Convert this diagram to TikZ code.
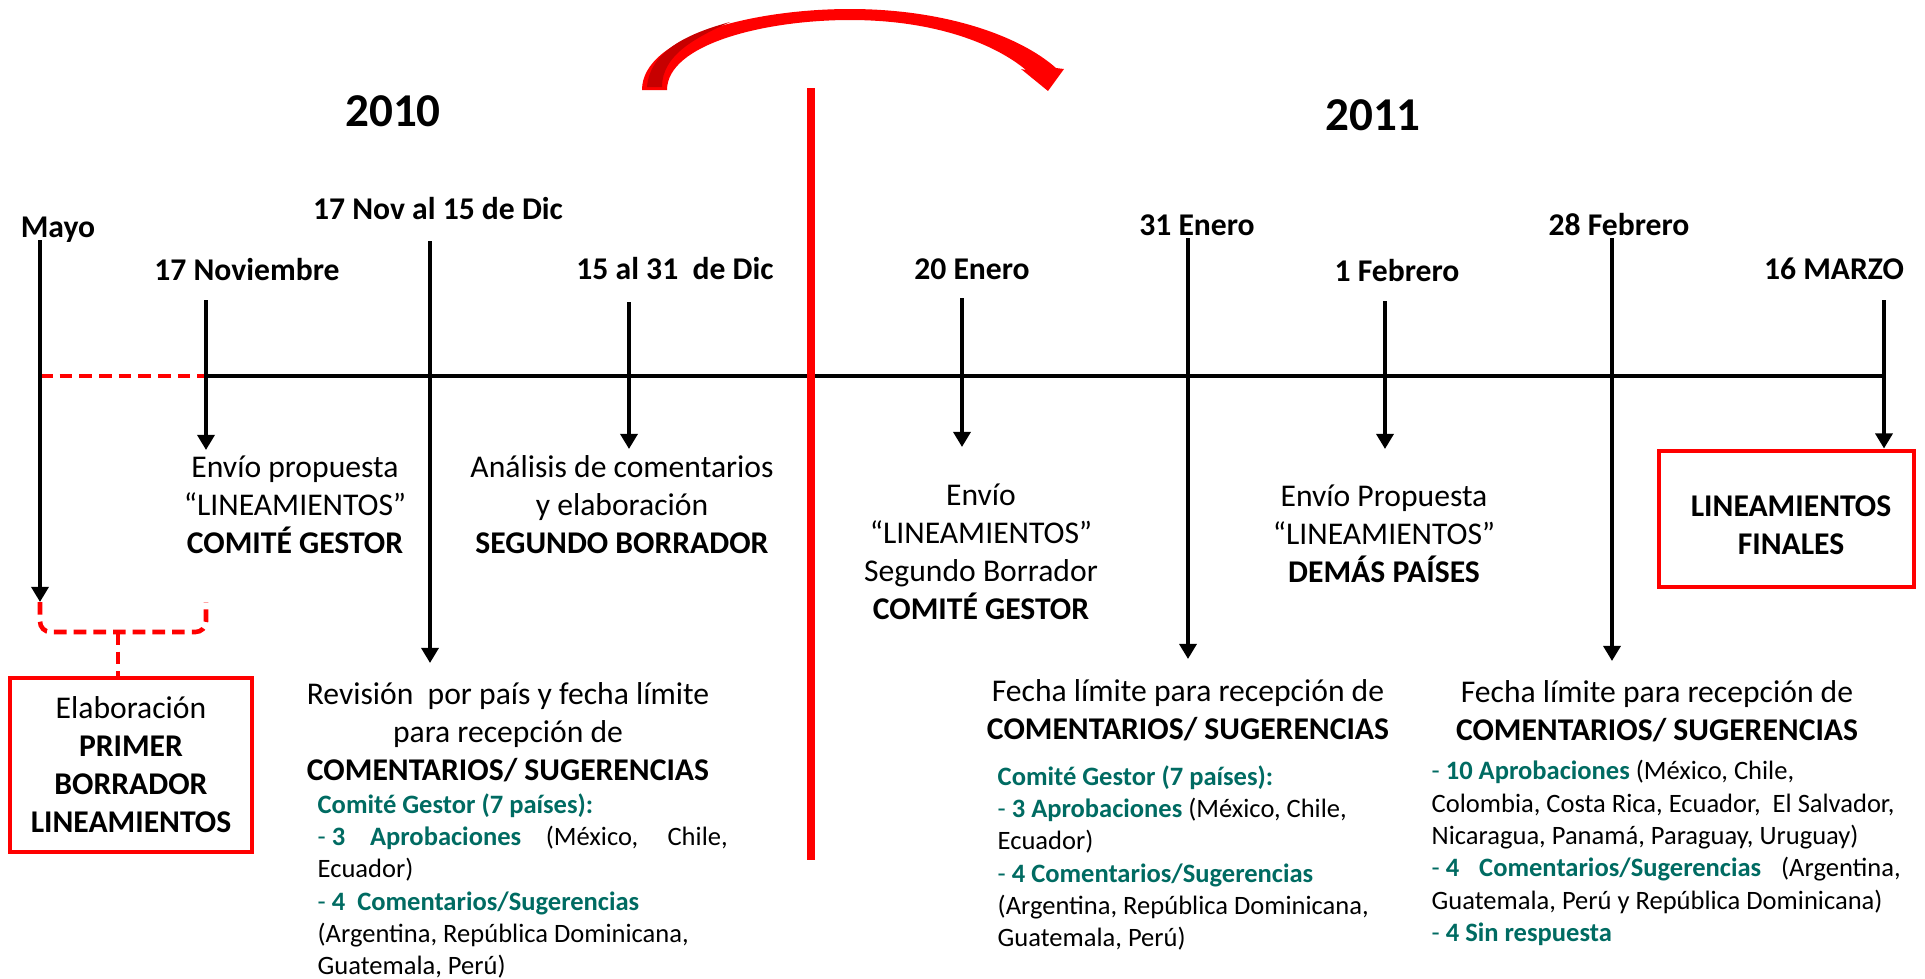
\documentclass[tikz,border=0pt]{standalone}
\usepackage{fontspec}
\setmainfont{Carlito}
\usepackage{tikz}
\usetikzlibrary{arrows.meta,positioning,calc}

\definecolor{gestor}{RGB}{0,107,98}
\newcommand{\txtsize}{\fontsize{9}{10.8}\selectfont}
\newcommand{\detsize}{\fontsize{7.55}{9.2}\selectfont}
\newcommand{\yearsize}{\fontsize{13.4}{16}\selectfont}
\newcommand{\gst}[1]{\textcolor{gestor}{#1}}

\begin{document}
\begin{tikzpicture}[
    yearbox/.style={font=\yearsize\bfseries, inner sep=0pt},
    datebox/.style={font=\txtsize\bfseries, inner sep=0pt},
    notebox/.style={font=\txtsize, align=center, inner sep=0pt},
    detailbox/.style={font=\detsize, align=left, anchor=west, inner sep=0pt},
    framebox/.style={
        draw=red,
        line width=1.4pt,
        font=\txtsize,
        align=center,
        inner sep=0pt
    },
    tickline/.style={line width=1.3pt},
    tickarrow/.style={
        -{Triangle[length=4.3pt,width=4.8pt]},
        line width=1.3pt
    },
    reddash/.style={draw=red, line width=1.3pt, dash pattern=on 3.6pt off 2pt}
]
    \useasboundingbox (0,0) rectangle (19.25,-9.78);

    \node[yearbox] (y2010) at (3.93,-1.11) {2010};
    \node[yearbox] (y2011) at (13.73,-1.15) {2011};

    \node[datebox] (mayo) at (0.58,-2.30) {Mayo};
    \node[datebox] (nov17) at (2.47,-2.70) {17 Noviembre};
    \node[datebox] (novdic) at (4.38,-2.09) {17 Nov al 15 de Dic};
    \node[datebox] (dic) at (6.75,-2.69) {15 al 31\ \ de Dic};
    \node[datebox] (ene20) at (9.72,-2.69) {20 Enero};
    \node[datebox] (ene31) at (11.97,-2.25) {31 Enero};
    \node[datebox] (feb1) at (13.97,-2.71) {1 Febrero};
    \node[datebox] (feb28) at (16.19,-2.25) {28 Febrero};
    \node[datebox] (mar16) at (18.34,-2.69) {16 MARZO};

    \node[notebox] (envio1) at (2.95,-5.05) {Envío propuesta\\“LINEAMIENTOS”\\\textbf{COMITÉ GESTOR}};
    \node[notebox] (analisis) at (6.22,-5.05) {Análisis de comentarios\\y elaboración\\\textbf{SEGUNDO BORRADOR}};
    \node[notebox] (revision) at (5.08,-7.32) {Revisión\ \ por país y fecha límite\\para recepción de\\\textbf{COMENTARIOS/ SUGERENCIAS}};
    \node[notebox] (envio2) at (9.81,-5.52) {Envío\\“LINEAMIENTOS”\\Segundo Borrador\\\textbf{COMITÉ GESTOR}};
    \node[notebox] (fecha1) at (11.88,-7.10) {Fecha límite para recepción de\\\textbf{COMENTARIOS/ SUGERENCIAS}};
    \node[notebox] (envio3) at (13.84,-5.34) {Envío Propuesta\\“LINEAMIENTOS”\\\textbf{DEMÁS PAÍSES}};
    \node[notebox] (fecha2) at (16.57,-7.11) {Fecha límite para recepción de\\\textbf{COMENTARIOS/ SUGERENCIAS}};

    \node[framebox, minimum width=2.42cm, minimum height=1.74cm] (primer) at (1.31,-7.65)
        {Elaboración\\\textbf{PRIMER}\\\textbf{BORRADOR}\\\textbf{LINEAMIENTOS}};
    \node[framebox, minimum width=2.55cm, minimum height=1.36cm] (finales) at (17.865,-5.19) {};
    \node[notebox, font=\txtsize\bfseries] (finalestxt) at (17.91,-5.25) {LINEAMIENTOS\\FINALES};

    \node[detailbox] (det2010) at (3.17,-8.86) {\gst{\textbf{Comité Gestor (7 países):}}\\
        \makebox[4.1cm][s]{\gst{\mbox{- \textbf{3}} \textbf{Aprobaciones}} (México, Chile,}\\
        Ecuador)\\
        \gst{- \textbf{4\ \ Comentarios/Sugerencias}}\\
        (Argentina, República Dominicana,\\
        Guatemala, Perú)};
    \node[detailbox] (detene) at (9.97,-8.58) {\gst{\textbf{Comité Gestor (7 países):}}\\
        \gst{- \textbf{3 Aprobaciones}} (México, Chile,\\
        Ecuador)\\
        \gst{- \textbf{4 Comentarios/Sugerencias}}\\
        (Argentina, República Dominicana,\\
        Guatemala, Perú)};
    \node[detailbox] (detfeb) at (14.31,-8.53) {\gst{- \textbf{10 Aprobaciones}} (México, Chile,\\
        Colombia, Costa Rica, Ecuador,\ \ El Salvador,\\
        Nicaragua, Panamá, Paraguay, Uruguay)\\
        \makebox[4.69cm][s]{\gst{\mbox{- \textbf{4}} \textbf{Comentarios/Sugerencias}} (Argentina,}\\
        Guatemala, Perú y República Dominicana)\\
        \gst{- \textbf{4 Sin respuesta}}};

    % timeline
    \coordinate (ax0) at (0.40,-3.76);
    \coordinate (ax1) at (2.06,-3.76);
    \coordinate (ax2) at (18.84,-3.76);
    \draw[reddash] (ax0) -- (ax1);
    \draw[tickline] (ax1) -- (ax2);

    \coordinate (tmayo) at (0.40,-2.40);
    \coordinate (tnov17) at (2.06,-3.00);
    \coordinate (tnovdic) at (4.30,-2.41);
    \coordinate (tdic) at (6.29,-3.02);
    \coordinate (tene20) at (9.62,-2.98);
    \coordinate (tene31) at (11.88,-2.38);
    \coordinate (tfeb1) at (13.85,-3.01);
    \coordinate (tfeb28) at (16.12,-2.38);
    \coordinate (tmar16) at (18.84,-3.00);
    \coordinate (bmayo) at (0.40,-6.02);

    \draw[tickarrow] (tmayo) -- (bmayo);
    \draw[tickarrow] (tnov17) -- (2.06,-4.50);
    \draw[tickarrow] (tnovdic) -- (4.30,-6.63);
    \draw[tickarrow] (tdic) -- (6.29,-4.49);
    \draw[tickarrow] (tene20) -- (9.62,-4.47);
    \draw[tickarrow] (tene31) -- (11.88,-6.59);
    \draw[tickarrow] (tfeb1) -- (13.85,-4.49);
    \draw[tickarrow] (tfeb28) -- (16.12,-6.61);
    \draw[tickarrow] (tmar16) -- (tmar16 |- finales.north);

    % brace to first draft
    \coordinate (brc) at (1.18,-6.32);
    \draw[reddash, rounded corners=3pt] (bmayo) -- (0.40,-6.32) -- (2.06,-6.32) -- (2.06,-6.02);
    \draw[reddash] (brc) -- (brc |- primer.north);

    % year change
    \coordinate (dtop) at (8.11,-0.88);
    \coordinate (dbot) at (8.11,-8.60);
    \draw[red, line width=2pt] (dtop) -- (dbot);
    \fill[red] (6.42,-0.90) .. controls (6.42,-0.36) and (7.55,-0.09) .. (8.50,-0.09)
        .. controls (9.45,-0.09) and (10.20,-0.36) .. (10.56,-0.68)
        -- (10.64,-0.69) -- (10.48,-0.91) -- (10.21,-0.69) -- (10.26,-0.70)
        .. controls (9.95,-0.44) and (9.35,-0.20) .. (8.50,-0.20)
        .. controls (7.65,-0.20) and (6.67,-0.44) .. (6.67,-0.90) -- cycle;
    \fill[red!78!black] (6.47,-0.87) .. controls (6.50,-0.50) and (6.90,-0.33) .. (7.30,-0.22)
        .. controls (6.95,-0.38) and (6.62,-0.55) .. (6.62,-0.87) -- cycle;
\end{tikzpicture}
\end{document}
